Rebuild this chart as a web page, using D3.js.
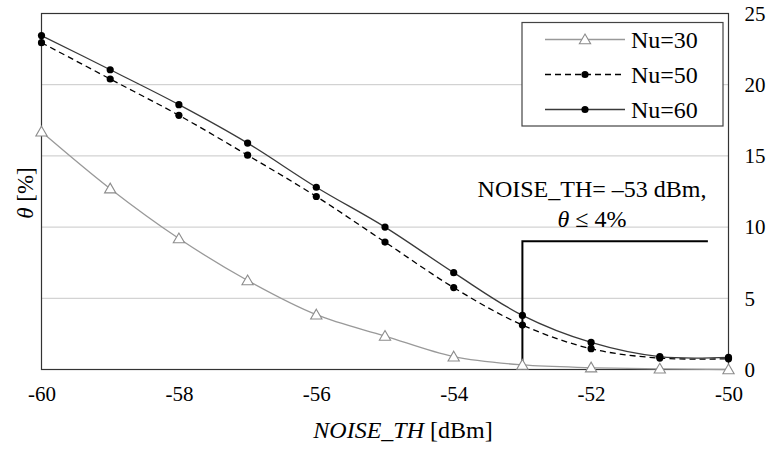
<!DOCTYPE html>
<html>
<head>
<meta charset="utf-8">
<script src="https://cdn.jsdelivr.net/npm/d3@7"></script>
<style>
  body { margin: 0; background: #fff; }
  svg text { font-family: "Liberation Serif", "Times New Roman", Times, "DejaVu Serif", serif; }
</style>
</head>
<body>
<div id="chart"></div>
<script>
const noiseTh = [-60, -59, -58, -57, -56, -55, -54, -53, -52, -51, -50];
const nu30 = [16.7, 12.7, 9.2, 6.25, 3.85, 2.35, 0.9, 0.32, 0.13, 0.05, 0.0];
const nu50 = [22.95, 20.4, 17.85, 15.05, 12.15, 8.95, 5.75, 3.12, 1.46, 0.8, 0.75];
const nu60 = [23.45, 21.05, 18.6, 15.9, 12.8, 10.0, 6.8, 3.8, 1.9, 0.9, 0.85];
const yTicks = [0, 5, 10, 15, 20, 25];
const xTicks = [-60, -58, -56, -54, -52, -50];

const series = [
  { name: "Nu=30", values: nu30, stroke: "#999", dash: null, marker: "triangle" },
  { name: "Nu=50", values: nu50, stroke: "#000", dash: "6,4", marker: "dot" },
  { name: "Nu=60", values: nu60, stroke: "#3a3a3a", dash: null, marker: "dot" }
];

const width = 772, height = 450;
const margin = { left: 41.5, right: 43.5, top: 13.5, bottom: 80.5 };
const serif = '"Liberation Serif", "Times New Roman", Times, serif';

const svg = d3.select('#chart').append('svg')
  .attr('width', width)
  .attr('height', height)
  .attr('font-family', serif);

const x = d3.scaleLinear().domain([-60, -50]).range([margin.left, width - margin.right]);
const y = d3.scaleLinear().domain([0, 25]).range([height - margin.bottom, margin.top]);

// gridlines
svg.append('g')
  .selectAll('line')
  .data(yTicks.filter(d => d > 0 && d < 25))
  .enter()
  .append('line')
  .attr('x1', x(-60)).attr('x2', x(-50))
  .attr('y1', d => y(d)).attr('y2', d => y(d))
  .attr('stroke', '#c8c8c8')
  .attr('stroke-width', 1);

// frame
svg.append('rect')
  .attr('x', x(-60)).attr('y', y(25))
  .attr('width', x(-50) - x(-60)).attr('height', y(0) - y(25))
  .attr('fill', 'none')
  .attr('stroke', '#333')
  .attr('stroke-width', 1.2);

// right y axis labels
const yAxis = d3.axisRight(y).tickValues(yTicks).tickSize(0).tickPadding(16);
svg.append('g')
  .attr('transform', `translate(${x(-50)},0)`)
  .call(yAxis)
  .attr('font-family', serif)
  .attr('font-size', 21)
  .call(g => g.select('.domain').remove())
  .selectAll('text')
  .attr('fill', '#000');

// x axis labels (plain hyphen like the original)
const xAxis = d3.axisBottom(x).tickValues(xTicks).tickSize(0).tickPadding(17)
  .tickFormat(d => String(d));
svg.append('g')
  .attr('transform', `translate(0,${y(0)})`)
  .call(xAxis)
  .attr('font-family', serif)
  .attr('font-size', 21)
  .call(g => g.select('.domain').remove())
  .selectAll('text')
  .attr('fill', '#000');

// annotation lines
svg.append('path')
  .attr('d', `M${x(-53)},${y(0)}V${y(9)}H${x(-50.3)}`)
  .attr('fill', 'none')
  .attr('stroke', '#000')
  .attr('stroke-width', 2);

// series lines
const line = d3.line()
  .x((d, i) => x(noiseTh[i]))
  .y(d => y(d))
  .curve(d3.curveCatmullRom.alpha(0.5));

series.forEach(s => {
  svg.append('path')
    .datum(s.values)
    .attr('d', line)
    .attr('fill', 'none')
    .attr('stroke', s.stroke)
    .attr('stroke-width', 1.3)
    .attr('stroke-dasharray', s.dash);
});

const tri = d3.symbol().type(d3.symbolTriangle).size(55);

function drawMarker(g, s, cx, cy) {
  if (s.marker === 'triangle') {
    g.append('path')
      .attr('d', tri())
      .attr('transform', `translate(${cx},${cy + 1})`)
      .attr('fill', '#fff')
      .attr('stroke', '#8c8c8c')
      .attr('stroke-width', 1.1);
  } else {
    g.append('circle')
      .attr('cx', cx).attr('cy', cy).attr('r', 3.6)
      .attr('fill', '#000');
  }
}

series.forEach(s => {
  const g = svg.append('g');
  s.values.forEach((v, i) => drawMarker(g, s, x(noiseTh[i]), y(v)));
});

// legend
const lg = svg.append('g');
lg.append('rect')
  .attr('x', 522).attr('y', 22.5)
  .attr('width', 201).attr('height', 103.5)
  .attr('fill', '#fff')
  .attr('stroke', '#444')
  .attr('stroke-width', 1.2);

series.forEach((s, i) => {
  const ly = 39.5 + i * 35;
  lg.append('line')
    .attr('x1', 545).attr('x2', 625)
    .attr('y1', ly).attr('y2', ly)
    .attr('stroke', s.stroke)
    .attr('stroke-width', 1.3)
    .attr('stroke-dasharray', s.dash);
  drawMarker(lg, s, 585, ly);
  lg.append('text')
    .attr('x', 631).attr('y', ly)
    .attr('dy', '0.35em')
    .attr('font-size', 24)
    .text(s.name);
});

// annotation text
svg.append('text')
  .attr('x', 592).attr('y', 197)
  .attr('text-anchor', 'middle')
  .attr('font-size', 24)
  .text('NOISE_TH= \u201353 dBm,');
const t2 = svg.append('text')
  .attr('x', 592).attr('y', 227)
  .attr('text-anchor', 'middle')
  .attr('font-size', 24);
t2.append('tspan').attr('font-style', 'italic').text('\u03b8');
t2.append('tspan').text(' \u2264 4%');

// axis titles
const xt = svg.append('text')
  .attr('x', 403).attr('y', 438)
  .attr('text-anchor', 'middle')
  .attr('font-size', 24);
xt.append('tspan').attr('font-style', 'italic').text('NOISE_TH');
xt.append('tspan').text(' [dBm]');

const yt = svg.append('text')
  .attr('transform', 'translate(33,193) rotate(-90)')
  .attr('text-anchor', 'middle')
  .attr('font-size', 23);
yt.append('tspan').attr('font-style', 'italic').text('\u03b8');
yt.append('tspan').text(' [%]');
</script>
</body>
</html>
